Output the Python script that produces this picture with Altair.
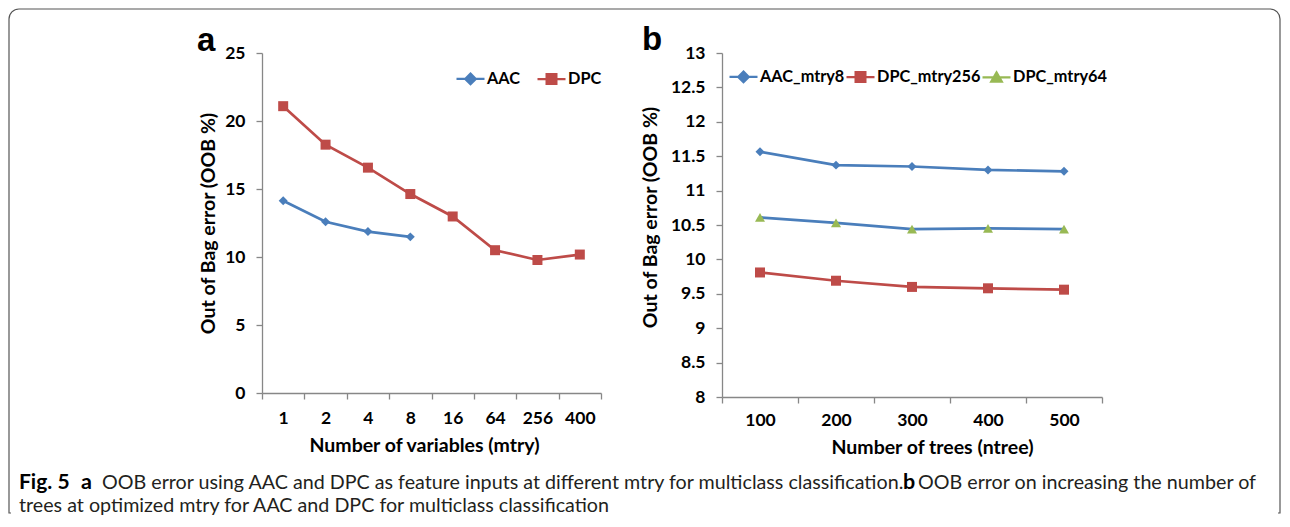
import altair as alt
import pandas as pd

# ---------------- data ----------------
mtry_labels = ["1", "2", "4", "8", "16", "64", "256", "400"]
aac_oob = [14.14, 12.59, 11.87, 11.48]
dpc_oob = [21.09, 18.26, 16.57, 14.63, 12.98, 10.50, 9.78, 10.18]
series_a = ["AAC", "DPC"]
y_ticks_a = [0, 5, 10, 15, 20, 25]

ntree_labels = ["100", "200", "300", "400", "500"]
aac_mtry8 = [11.565, 11.37, 11.35, 11.30, 11.28]
dpc_mtry256 = [9.81, 9.69, 9.60, 9.58, 9.56]
dpc_mtry64 = [10.61, 10.53, 10.44, 10.45, 10.44]
series_b = ["AAC_mtry8", "DPC_mtry256", "DPC_mtry64"]
y_ticks_b = [8, 8.5, 9, 9.5, 10, 10.5, 11, 11.5, 12, 12.5, 13]

caption_fig = "Fig. 5"
caption_a = "a"
caption_seg2 = "OOB error using AAC and DPC as feature inputs at different mtry for multiclass classification."
caption_b = "b"
caption_seg4 = "OOB error on increasing the number of"
caption_line2 = "trees at optimized mtry for AAC and DPC for multiclass classification"

BLUE, RED, GREEN = "#4A7EBB", "#BE4B48", "#98B954"

rows = []
for c, v in zip(mtry_labels, aac_oob):
    rows.append({"cat": c, "series": "AAC", "oob": v})
for c, v in zip(mtry_labels, dpc_oob):
    rows.append({"cat": c, "series": "DPC", "oob": v})
df_a = pd.DataFrame(rows)

rows = []
for name, vals in zip(series_b, [aac_mtry8, dpc_mtry256, dpc_mtry64]):
    for c, v in zip(ntree_labels, vals):
        rows.append({"cat": c, "series": name, "oob": v})
df_b = pd.DataFrame(rows)

LINE = "M-1,0H1"
DIAMOND = "M0,-0.38L0.38,0L0,0.38L-0.38,0Z"
SQUARE = "M-0.35,-0.35H0.35V0.35H-0.35Z"
TRIANGLE = "M0,-0.36L0.38,0.3H-0.38Z"

AXIS_FONT = "Lato"


def panel(df, cats, series, colors, shapes, sizes, leg_paths, ydomain, yticks,
          xtitle, xt_x, xt_y, yt_x, yt_y, leg_x, leg_y, col_pad, xlab_pad):
    x = alt.X(
        "cat:N", sort=cats,
        scale=alt.Scale(type="band", domain=cats, paddingInner=0, paddingOuter=0),
        axis=alt.Axis(title=xtitle, tickBand="extent", labelAngle=0,
                      labelPadding=xlab_pad, titleX=xt_x, titleY=xt_y,
                      titleBaseline="middle"),
    )
    y = alt.Y(
        "oob:Q",
        scale=alt.Scale(domain=ydomain, nice=False, zero=False),
        axis=alt.Axis(title="Out of Bag error (OOB %)", values=yticks,
                      format=".1~f", labelPadding=11, titleX=yt_x, titleY=yt_y,
                      titleBaseline="middle"),
    )
    color = alt.Color("series:N", scale=alt.Scale(domain=series, range=colors), legend=None)
    base = alt.Chart(df)
    layers = [base.mark_line(strokeWidth=2.7).encode(x=x, y=y, color=color)]
    for s, col, shp, sz in zip(series, colors, shapes, sizes):
        layers.append(
            base.transform_filter(alt.datum.series == s)
            .mark_point(filled=True, opacity=1, shape=shp, size=sz, color=col)
            .encode(x=x, y=y)
        )
    leg = alt.Legend(title=None, orient="none", legendX=leg_x, legendY=leg_y,
                     direction="horizontal", symbolSize=784, symbolStrokeWidth=2.2,
                     labelFont=AXIS_FONT, labelFontSize=16.3, labelFontWeight="bold",
                     labelColor="black", labelOffset=1, columnPadding=col_pad,
                     padding=0, symbolOpacity=1)
    # legend-only layer: no rows survive the filter, the legend comes from the
    # explicit scale domains
    layers.append(
        base.transform_filter(alt.datum.oob < -1000).mark_point(filled=True).encode(
            x=x, y=y,
            fill=alt.Fill("series:N", scale=alt.Scale(domain=series, range=colors), legend=leg),
            stroke=alt.Stroke("series:N", scale=alt.Scale(domain=series, range=colors), legend=leg),
            shape=alt.Shape("series:N", scale=alt.Scale(domain=series, range=leg_paths), legend=leg),
        )
    )
    return layers


def label(txt, x, y, size, weight, font, color="black"):
    return alt.Chart(pd.DataFrame({"t": [txt]})).mark_text(
        align="left", baseline="alphabetic", font=font, fontSize=size,
        fontWeight=weight, color=color,
    ).encode(x=alt.value(x), y=alt.value(y), text="t:N")


# ---------- panel a ----------
layers_a = panel(
    df_a, mtry_labels, series_a, [BLUE, RED], ["diamond", "square"], [80, 100],
    [LINE + DIAMOND, LINE + SQUARE], [0, 25], y_ticks_a,
    "Number of variables (mtry)", 162, 52, -54, 170, 193, 10, 12, 10,
)

border = alt.Chart(pd.DataFrame({"k": [0]})).mark_rect(
    filled=False, stroke="#555555", strokeWidth=1.2,
    cornerRadiusTopLeft=10, cornerRadiusTopRight=10,
).encode(x=alt.value(-253), x2=alt.value(1018), y=alt.value(-44), y2=alt.value(460))
border_cut = alt.Chart(pd.DataFrame({"k": [0]})).mark_rule(
    color="white", strokeWidth=3,
).encode(x=alt.value(-251), x2=alt.value(1016), y=alt.value(460))

CAP_FONT = "Lato"
CAP_SIZE = 19.7
CAP_COL = "#231F20"
cap = [
    label(caption_fig, -243, 436, 21, "bold", CAP_FONT, "black"),
    label(caption_a, -181, 436, 21.5, "bold", CAP_FONT, "black"),
    label(caption_seg2, -160, 436, CAP_SIZE, "normal", CAP_FONT, CAP_COL),
    label(caption_b, 641, 436, 21.5, "bold", CAP_FONT, "black"),
    label(caption_seg4, 656, 436, CAP_SIZE, "normal", CAP_FONT, CAP_COL),
    label(caption_line2, -243, 459, CAP_SIZE, "normal", CAP_FONT, CAP_COL),
]
tag_a = label("a", -65, -2, 33, "bold", "Liberation Sans")

RES = dict(fill="independent", stroke="independent", shape="independent")

chart_a = alt.layer(border, border_cut, *layers_a, tag_a, *cap).resolve_scale(
    **RES
).properties(width=339, height=340)

# ---------- panel b ----------
layers_b = panel(
    df_b, ntree_labels, series_b, [BLUE, RED, GREEN],
    ["diamond", "square", "triangle-up"], [80, 100, 100],
    [LINE + DIAMOND, LINE + SQUARE, LINE + TRIANGLE], [8, 13], y_ticks_b,
    "Number of trees (ntree)", 210, 50, -72, 164, 6, 8, -3, 8,
)
tag_b = label("b", -80, -3, 33, "bold", "Liberation Sans")
chart_b = alt.layer(*layers_b, tag_b).resolve_scale(**RES).properties(
    width=380, height=344
)

chart = alt.hconcat(chart_a, chart_b, spacing=121, bounds="flush").properties(
    padding=0
).configure_view(strokeWidth=0).configure_axis(
    grid=False, domainColor="#878787", tickColor="#878787", domainWidth=1.3,
    tickWidth=1.3, tickSize=6, labelFont=AXIS_FONT, labelFontSize=17.5,
    labelFontWeight="bold", labelColor="black", titleFont=AXIS_FONT,
    titleFontSize=19.5, titleFontWeight="bold", titleColor="black",
)

chart.save("out.html", embed_options={"renderer": "svg", "actions": False})
